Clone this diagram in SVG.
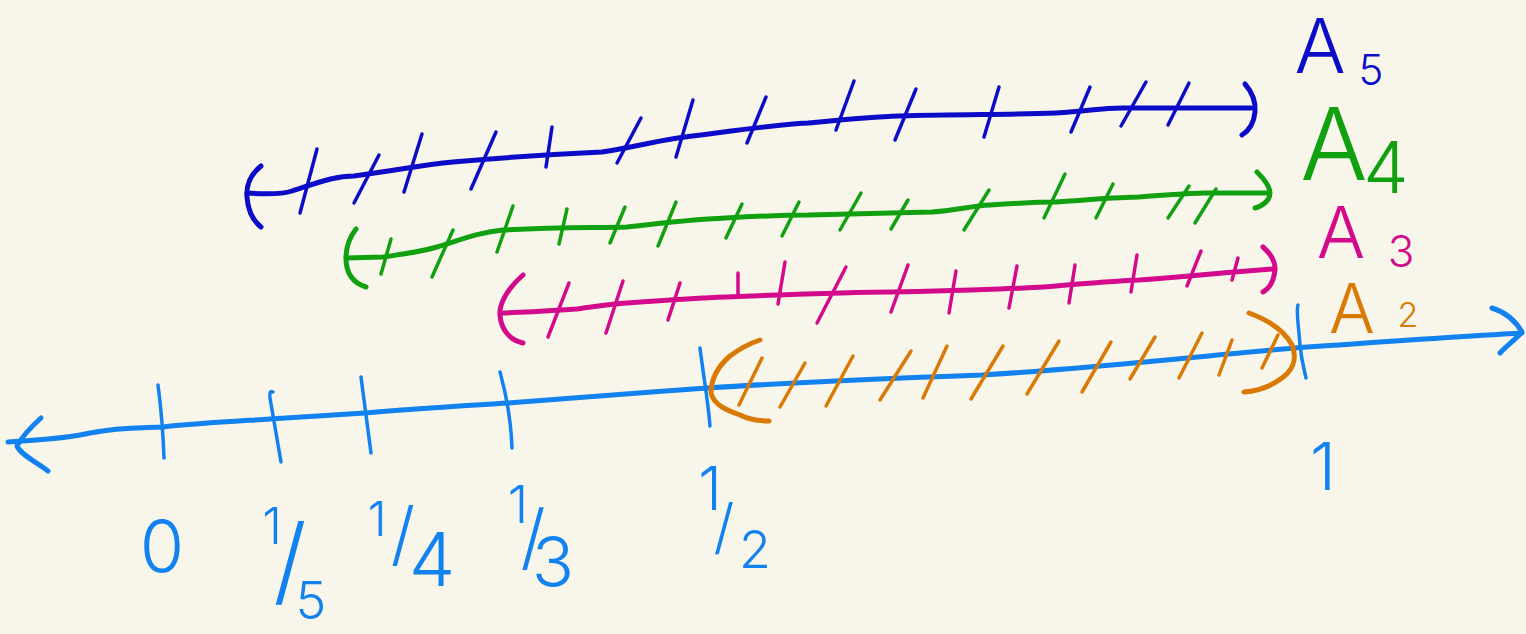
<svg xmlns="http://www.w3.org/2000/svg" width="1526" height="634" viewBox="0 0 1526 634">
<style>
.ln{fill:none;stroke-linecap:round;stroke-linejoin:round}
.main{stroke-width:5}
.tk{stroke-width:3.5}
.ax{stroke:#1282f0}
.b5{stroke:#0c0cc8}
.g4{stroke:#10a010}
.m3{stroke:#d40a8c}
.o2{stroke:#da7a06}
.lb{font-family:Inter,"Open Sans","DejaVu Sans",sans-serif;font-weight:300;text-anchor:middle}
</style>
<rect width="1526" height="634" fill="#f8f6ea"/>
<g id="connectors">
<g id="axis" class="ln ax">
<path class="main" d="M8,442 C40,440 70,438 90,433 C120,427 140,428 163,427 C200,423 240,421 270,419 C300,417 330,415 365,413 C420,408 460,406 508,403 C570,398 640,393 707,388 C800,382 900,378 982,375 C1100,368 1200,356 1295,348 C1380,342 1450,337 1522,333"/>
<path class="main" d="M41,418 C32,426 22,437 17,446 C20,454 36,462 48,471"/>
<path class="main" d="M1492,308 C1505,312 1515,320 1522,332 C1515,340 1506,346 1500,353"/>
<path class="tk" d="M158,385 C160,400 163,430 164,458"/>
<path class="tk" d="M273,392 Q269,390 270,398 L281,462"/>
<path class="tk" d="M361,377 L371,453"/>
<path class="tk" d="M500,372 C505,390 511,420 512,448"/>
<path class="tk" d="M700,348 C704,380 708,400 710,426"/>
<path class="tk" d="M1298,305 C1296,310 1298,320 1300,345 C1302,365 1305,372 1306,378"/>
</g>
<g id="A5-line" class="ln b5">
<path class="main" stroke-width="6" d="M247,193 C262,194 280,195 292,191 C320,182 335,176 354,176 C400,170 420,165 453,162 C520,156 560,154 602,152 C640,146 660,140 685,137 C740,130 770,125 808,123 C840,120 870,117 899,116 C960,114 1010,115 1056,113 C1090,111 1100,108 1122,108 L1251,108"/>
<path class="main" d="M261,166 C250,175 246,185 247,197 C248,210 252,220 261,227"/>
<path class="main" d="M1245,84 C1252,92 1256,100 1255,112 C1254,122 1250,130 1242,135"/>
<path class="tk" d="M317,149 L300,213"/>
<path class="tk" d="M379,155 L354,203"/>
<path class="tk" d="M422,134 L404,192"/>
<path class="tk" d="M496,132 L471,189"/>
<path class="tk" d="M552,127 L546,167"/>
<path class="tk" d="M641,118 L617,163"/>
<path class="tk" d="M693,100 L676,157"/>
<path class="tk" d="M766,97 L747,143"/>
<path class="tk" d="M854,81 L836,130"/>
<path class="tk" d="M916,89 L895,140"/>
<path class="tk" d="M999,87 L984,137"/>
<path class="tk" d="M1090,87 L1071,132"/>
<path class="tk" d="M1146,82 L1121,126"/>
<path class="tk" d="M1189,83 L1168,125"/>
</g>
<g id="A4-line" class="ln g4">
<path class="main" d="M346,258 L383,257 C410,253 420,252 437,247 C460,240 480,232 503,230 C560,227 600,228 627,227 C670,222 700,219 726,218 C760,216 780,215 808,215 C860,214 900,213 932,212 C960,210 970,206 990,205 C1020,203 1040,202 1056,202 C1100,199 1120,197 1139,197 C1170,195 1190,193 1205,193 L1267,193"/>
<path class="main" d="M356,229 C349,238 346,248 346,258 C346,270 350,282 366,287"/>
<path class="main" d="M1257,172 C1265,180 1270,187 1270,193 C1270,200 1263,206 1255,208"/>
<path class="tk" d="M391,239 L381,274"/>
<path class="tk" d="M453,230 L432,277"/>
<path class="tk" d="M513,206 L497,252"/>
<path class="tk" d="M567,209 L559,244"/>
<path class="tk" d="M625,207 L610,243"/>
<path class="tk" d="M676,202 L658,246"/>
<path class="tk" d="M742,204 L726,238"/>
<path class="tk" d="M799,202 L782,236"/>
<path class="tk" d="M861,193 L840,230"/>
<path class="tk" d="M908,200 L891,229"/>
<path class="tk" d="M989,190 L964,230"/>
<path class="tk" d="M1065,174 L1044,218"/>
<path class="tk" d="M1113,184 L1096,218"/>
<path class="tk" d="M1189,186 L1168,218"/>
<path class="tk" d="M1216,189 L1195,223"/>
</g>
<g id="A3-line" class="ln m3">
<path class="main" d="M503,313 C530,312 560,310 577,309 C600,306 610,304 627,303 C670,300 700,298 726,297 C800,294 850,292 891,292 C940,291 970,290 999,289 C1030,288 1045,287 1056,286 C1090,283 1115,281 1139,280 C1180,277 1200,275 1222,273 L1273,269"/>
<path class="main" d="M523,275 C506,290 499,305 500,315 C501,330 510,340 523,343"/>
<path class="main" d="M1263,247 C1270,253 1276,262 1275,270 C1274,280 1270,288 1263,292"/>
<path class="tk" d="M569,283 L548,337"/>
<path class="tk" d="M623,281 L606,333"/>
<path class="tk" d="M680,283 L668,320"/>
<path class="tk" d="M738,273 L738,296"/>
<path class="tk" d="M785,262 L778,304"/>
<path class="tk" d="M846,267 L817,323"/>
<path class="tk" d="M908,265 L891,312"/>
<path class="tk" d="M956,271 L949,313"/>
<path class="tk" d="M1017,266 L1009,308"/>
<path class="tk" d="M1075,265 L1069,303"/>
<path class="tk" d="M1137,255 L1131,292"/>
<path class="tk" d="M1201,251 L1187,286"/>
<path class="tk" d="M1238,258 L1232,280"/>
</g>
<g id="A2-line" class="ln o2">
<path class="main" d="M760,340 C748,344 738,350 730,356 C716,368 711,380 711,393 C714,405 726,410 740,415 C750,420 760,421 769,421"/>
<path class="main" d="M1249,313 C1268,320 1284,330 1292,345 C1298,360 1292,372 1279,380 C1268,388 1256,391 1244,392"/>
<path class="tk" d="M762,358 L739,405"/>
<path class="tk" d="M805,363 L780,407"/>
<path class="tk" d="M853,356 L826,406"/>
<path class="tk" d="M911,351 L880,400"/>
<path class="tk" d="M947,346 L923,398"/>
<path class="tk" d="M1003,346 L971,399"/>
<path class="tk" d="M1059,341 L1027,394"/>
<path class="tk" d="M1111,342 L1082,392"/>
<path class="tk" d="M1155,337 L1130,379"/>
<path class="tk" d="M1202,333 L1179,378"/>
<path class="tk" d="M1232,340 L1219,375"/>
<path class="tk" d="M1278,335 L1262,368"/>
</g>
</g>
<g id="label-A5"><text class="lb" fill="#0c0cc8"><tspan x="1320" y="73" font-size="76">A</tspan><tspan x="1371" y="85" font-size="42">5</tspan></text></g>
<g id="label-A4"><text class="lb" fill="#10a010"><tspan x="1334" y="180" font-size="100">A</tspan><tspan x="1386" y="193" font-size="72">4</tspan></text></g>
<g id="label-A3"><text class="lb" fill="#d40a8c"><tspan x="1341" y="258" font-size="72">A</tspan><tspan x="1401" y="267" font-size="44">3</tspan></text></g>
<g id="label-A2"><text class="lb" fill="#da7a06"><tspan x="1352" y="333" font-size="68">A</tspan><tspan x="1408" y="327" font-size="34">2</tspan></text></g>
<g id="label-0"><text class="lb" fill="#1282f0" x="162" y="572" font-size="72">0</text></g>
<g id="label-1-5"><text class="lb" fill="#1282f0"><tspan x="272" y="544" font-size="50">1</tspan><tspan x="290" y="594" font-size="96">/</tspan><tspan x="311" y="619" font-size="52">5</tspan></text></g>
<g id="label-1-4"><text class="lb" fill="#1282f0"><tspan x="377" y="536" font-size="48">1</tspan><tspan x="403" y="558" font-size="70">/</tspan><tspan x="432" y="586" font-size="74">4</tspan></text></g>
<g id="label-1-3"><text class="lb" fill="#1282f0"><tspan x="518" y="523" font-size="52">1</tspan><tspan x="533" y="562" font-size="72">/</tspan><tspan x="553" y="587" font-size="70">3</tspan></text></g>
<g id="label-1-2"><text class="lb" fill="#1282f0"><tspan x="710" y="510" font-size="60">1</tspan><tspan x="724" y="548" font-size="60">/</tspan><tspan x="755" y="568" font-size="52">2</tspan></text></g>
<g id="label-1"><text class="lb" fill="#1282f0" x="1323" y="490" font-size="66">1</text></g>
</svg>
